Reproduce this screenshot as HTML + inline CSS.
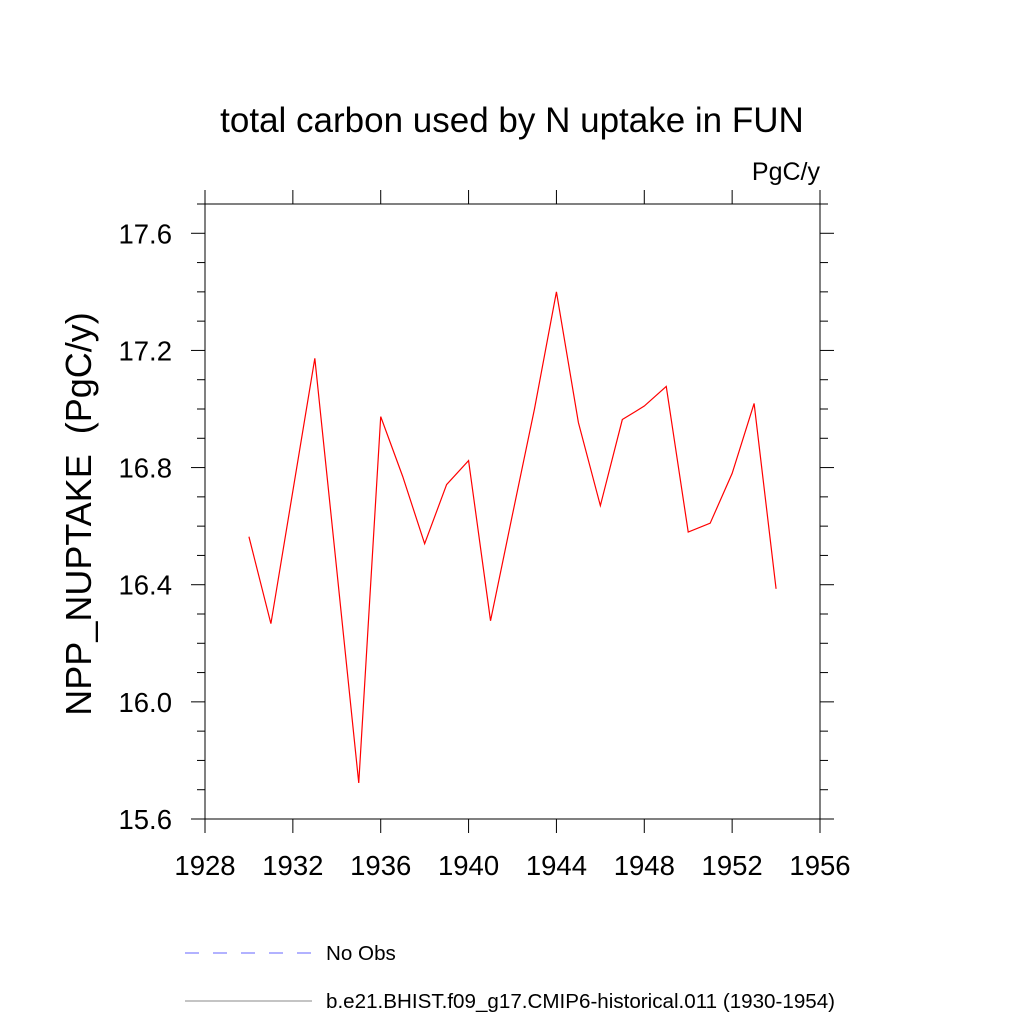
<!DOCTYPE html>
<html><head><meta charset="utf-8"><style>body{margin:0;background:#fff}svg{display:block;font-family:"Liberation Sans",sans-serif}</style></head>
<body>
<svg width="1024" height="1024" viewBox="0 0 1024 1024" xmlns="http://www.w3.org/2000/svg">
<text x="512" y="132" font-size="35" text-anchor="middle">total carbon used by N uptake in FUN</text>
<text x="820" y="180" font-size="25" text-anchor="end">PgC/y</text>
<text transform="translate(91,514) rotate(-90)" font-size="36" text-anchor="middle" xml:space="preserve" style="white-space:pre">NPP_NUPTAKE  (PgC/y)</text>
<g id="axes"></g>
<polyline id="series" fill="none" stroke="#ff0000" stroke-width="1.2"/>
<line x1="185" y1="953" x2="312" y2="953" stroke="#6666ff" stroke-width="1" stroke-dasharray="14,14"/>
<text x="326" y="960" font-size="20.6">No Obs</text>
<line x1="185" y1="1001" x2="312" y2="1001" stroke="#888" stroke-width="1"/>
<text x="326" y="1008" font-size="20.6">b.e21.BHIST.f09_g17.CMIP6-historical.011 (1930-1954)</text>
</svg>
<script>
const years=[1930,1931,1932,1933,1934,1935,1936,1937,1938,1939,1940,1941,1942,1943,1944,1945,1946,1947,1948,1949,1950,1951,1952,1953,1954];
const values=[16.564,16.267,16.72,17.173,16.45,15.723,16.974,16.77,16.54,16.742,16.824,16.277,16.64,17.0,17.40,16.954,16.67,16.964,17.01,17.077,16.58,16.61,16.78,17.019,16.386];
const xTicks=[1928,1932,1936,1940,1944,1948,1952,1956];
const yTicks=[15.6,16.0,16.4,16.8,17.2,17.6];
const L=205,R=820,T=204,B=819,x0=1928,x1=1956,y0=15.6,y1=17.7;
const X=v=>L+(v-x0)/(x1-x0)*(R-L);
const Y=v=>B-(v-y0)/(y1-y0)*(B-T);
const ns="http://www.w3.org/2000/svg",g=document.getElementById('axes');
function ln(a,b,c,d,name){const e=document.createElementNS(ns,'line');e.setAttribute('x1',a);e.setAttribute('y1',b);e.setAttribute('x2',c);e.setAttribute('y2',d);e.setAttribute('stroke','#000');e.setAttribute('stroke-width','1');


g.appendChild(e);}
function tx(x,y,s,anchor,name){const e=document.createElementNS(ns,'text');e.setAttribute('x',x);e.setAttribute('y',y);e.setAttribute('font-size','27.5');e.setAttribute('text-anchor',anchor);e.textContent=s;


g.appendChild(e);}
const r=document.createElementNS(ns,'rect');r.setAttribute('x',L);r.setAttribute('y',T);r.setAttribute('width',R-L);r.setAttribute('height',B-T);r.setAttribute('fill','none');r.setAttribute('stroke','#000');


g.appendChild(r);
xTicks.forEach(v=>{const x=X(v);ln(x,B,x,B+14,'x-tick');ln(x,T,x,T-14,'x-tick-top');tx(x,B+56,String(v),'middle','x-tick-label');});
for(let k=0;k<=21;k++){const v=y0+k*0.1;const y=Y(v);const major=k%4===0;const len=major?14:8;ln(L,y,L-len,y,'y-tick');ln(R,y,R+len,y,'y-tick-right');}
yTicks.forEach(v=>tx(L-33,Y(v)+10,v.toFixed(1),'end','y-tick-label'));
document.getElementById('series').setAttribute('points',years.map((yr,i)=>X(yr)+','+Y(values[i])).join(' '));
</script>
</body></html>
